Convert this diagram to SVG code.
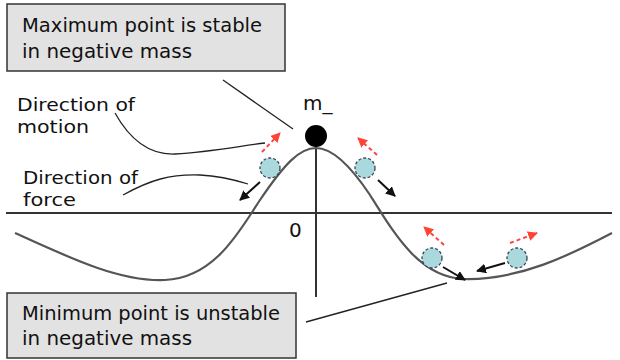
<svg xmlns="http://www.w3.org/2000/svg" width="620" height="360" viewBox="0 0 620 360">
<defs>
<style>
.box{fill:#e2e2e2;stroke:#333;stroke-width:1.5}
.t{font-family:"DejaVu Sans","Liberation Sans",sans-serif;font-size:20px;fill:#111}
.lbl{font-size:18px}
.axis{stroke:#333;stroke-width:2;fill:none}
.curve{stroke:#555;stroke-width:2.2;fill:none}
.lead{stroke:#222;stroke-width:1.3;fill:none}
.mass{fill:#a9d9dc;stroke:#345;stroke-width:1.3;stroke-dasharray:3,2}
.force{stroke:#111;stroke-width:2;fill:none;marker-end:url(#ab)}
.motion{stroke:#f44;stroke-width:2;fill:none;stroke-dasharray:4,3;marker-end:url(#ar)}
</style>
<marker id="ab" viewBox="0 0 10 10" refX="9" refY="5" markerWidth="10" markerHeight="10" orient="auto" markerUnits="userSpaceOnUse"><path d="M0,0 L10,5 L0,10 z" fill="#111"/></marker>
<marker id="ar" viewBox="0 0 10 10" refX="9" refY="5" markerWidth="10" markerHeight="10" orient="auto" markerUnits="userSpaceOnUse"><path d="M0,0 L10,5 L0,10 z" fill="#f43"/></marker>
</defs>
<rect width="620" height="360" fill="#fff"/>
<g id="axes">
<line class="axis" x1="6" y1="213" x2="612" y2="213"/>
<line class="axis" x1="316" y1="140" x2="316" y2="297"/>
<text class="t" x="289" y="237" font-size="18">0</text>
</g>
<g id="potential">
<path class="curve" d="M15,233 C70,258 120,282 165,280 C215,278 240,230 260,200 C285,163 300,148 316,148 C332,148 350,165 370,195 C395,235 420,278 465,279 C520,280 570,255 612,233"/>
</g>
<g id="connectors">
<line class="lead" x1="223" y1="80" x2="293" y2="129"/>
<path class="lead" d="M115,113 C130,140 150,155 175,154 C210,152 240,146 265,143"/>
<path class="lead" d="M123,195 C150,180 170,174 200,175 C220,176 235,180 248,184"/>
<line class="lead" x1="306" y1="322" x2="447" y2="283"/>
<line class="force" x1="260" y1="182" x2="240" y2="200"/>
<line class="force" x1="378" y1="180" x2="395" y2="196"/>
<line class="force" x1="443" y1="267" x2="465" y2="280"/>
<line class="force" x1="505" y1="263" x2="477" y2="271"/>
<line class="motion" x1="262" y1="152" x2="280" y2="133"/>
<line class="motion" x1="377" y1="155" x2="358" y2="138"/>
<line class="motion" x1="444" y1="245" x2="424" y2="227"/>
<line class="motion" x1="510" y1="243" x2="537" y2="233"/>
</g>
<g id="box-max">
<rect class="box" x="7" y="4" width="278" height="67"/>
<text class="t" x="22" y="32" textLength="240" lengthAdjust="spacingAndGlyphs">Maximum point is stable</text>
<text class="t" x="22" y="58" textLength="170" lengthAdjust="spacingAndGlyphs">in negative mass</text>
</g>
<g id="box-min">
<rect class="box" x="7" y="293" width="289" height="65"/>
<text class="t" x="22" y="320" textLength="258" lengthAdjust="spacingAndGlyphs">Minimum point is unstable</text>
<text class="t" x="22" y="345" textLength="170" lengthAdjust="spacingAndGlyphs">in negative mass</text>
</g>
<g id="label-motion">
<text class="t lbl" x="17" y="111" textLength="118" lengthAdjust="spacingAndGlyphs">Direction of</text>
<text class="t lbl" x="17" y="133" textLength="72" lengthAdjust="spacingAndGlyphs">motion</text>
</g>
<g id="label-force">
<text class="t lbl" x="23" y="184" textLength="115" lengthAdjust="spacingAndGlyphs">Direction of</text>
<text class="t lbl" x="23" y="206" textLength="53" lengthAdjust="spacingAndGlyphs">force</text>
</g>
<g id="ball">
<circle cx="316" cy="136" r="11" fill="#000"/>
<text class="t" x="303" y="110">m_</text>
</g>
<g id="mass-1"><circle class="mass" cx="270" cy="168" r="10"/></g>
<g id="mass-2"><circle class="mass" cx="365" cy="168" r="10"/></g>
<g id="mass-3"><circle class="mass" cx="432" cy="258" r="10"/></g>
<g id="mass-4"><circle class="mass" cx="517" cy="258" r="10"/></g>
</svg>
